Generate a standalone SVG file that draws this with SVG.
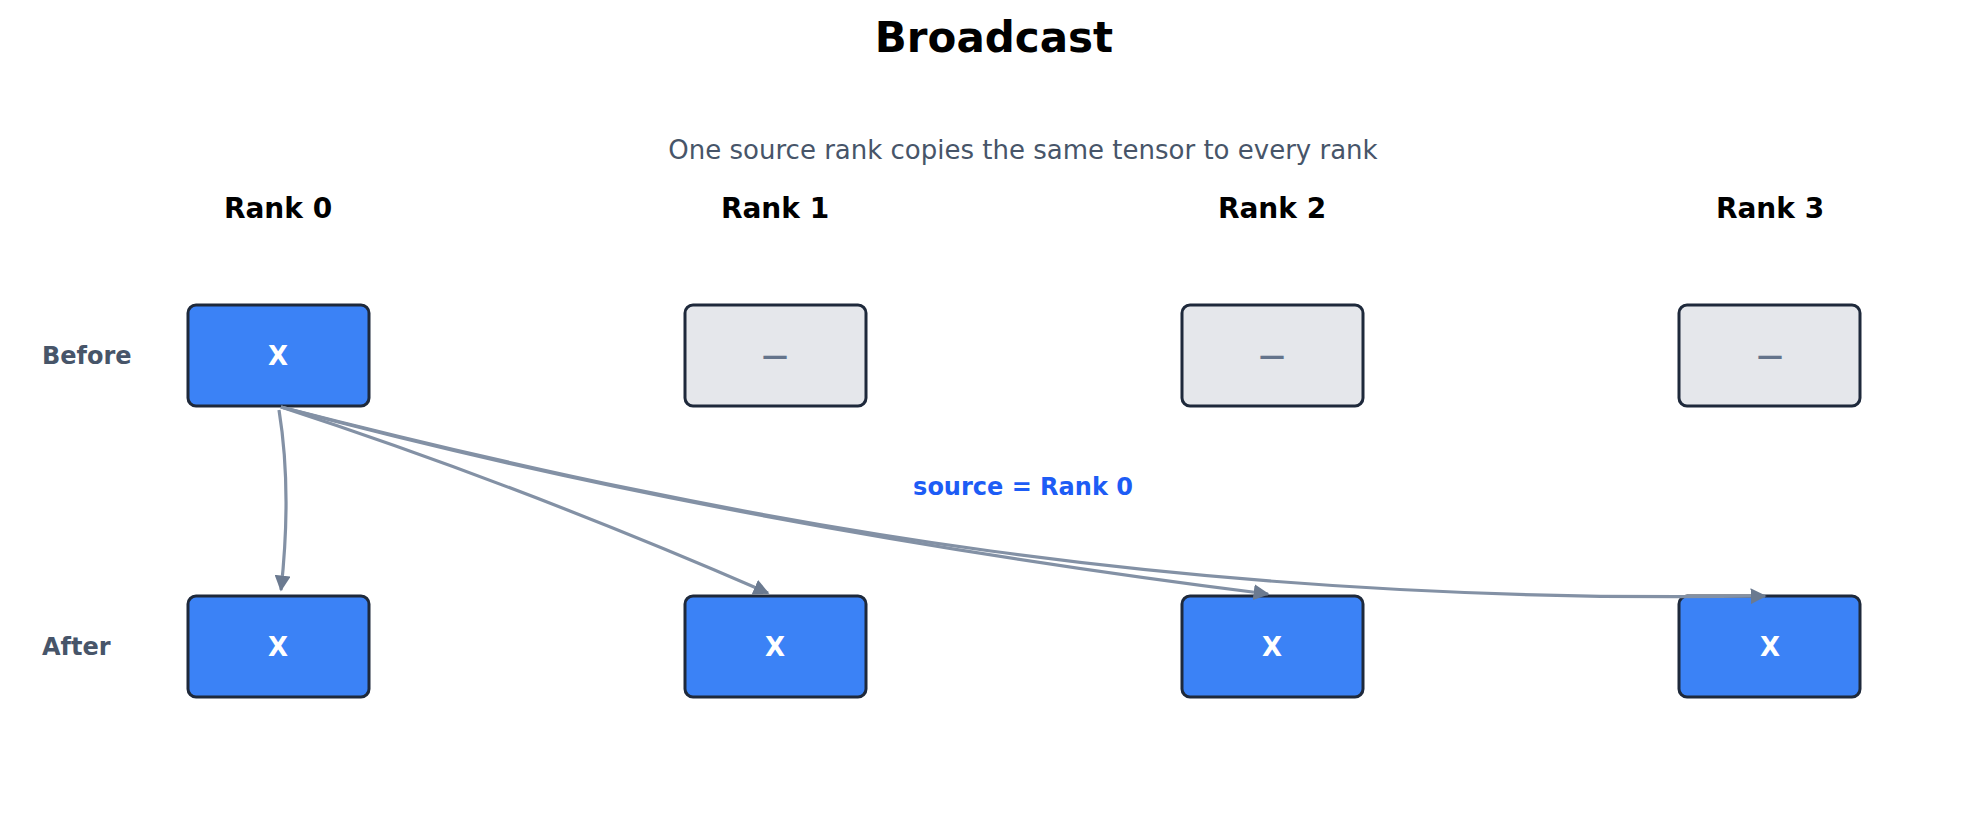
<svg xmlns="http://www.w3.org/2000/svg" width="1988" height="835" viewBox="0 0 1988 835">
<style>
text{font-family:"DejaVu Sans",sans-serif;text-anchor:middle}
.t{font-size:42px;font-weight:bold;fill:#000}
.sub{font-size:26px;fill:#475569}
.rk{font-size:28px;font-weight:bold;fill:#000}
.row{font-size:24px;font-weight:bold;fill:#475569;text-anchor:start}
.full rect{fill:#3b82f6;stroke:#1e293b;stroke-width:3}
.empty rect{fill:#e5e7eb;stroke:#1e293b;stroke-width:3}
.full text{font-size:26px;font-weight:bold;fill:#fff}
.empty text{font-size:26px;font-weight:bold;fill:#64748b}
.e{fill:none;stroke:#8391a5;stroke-width:3.2}
.lbl{font-size:24px;font-weight:bold;fill:#1d5cf5}
</style>
<defs><marker id="ah" viewBox="0 0 10 10" refX="9" refY="5" markerWidth="5" markerHeight="5" orient="auto-start-reverse" markerUnits="strokeWidth"><path d="M0,0L10,5L0,10z" fill="#6b7a90"/></marker></defs>
<text class="t" x="994" y="52">Broadcast</text>
<text class="sub" x="1023" y="159">One source rank copies the same tensor to every rank</text>
<text class="rk" x="278" y="218">Rank 0</text>
<text class="rk" x="775" y="218">Rank 1</text>
<text class="rk" x="1272" y="218">Rank 2</text>
<text class="rk" x="1770" y="218">Rank 3</text>
<text class="row" x="42" y="364">Before</text>
<text class="row" x="42" y="655">After</text>
<g id="b0" class="full"><rect x="188" y="305" width="181" height="101" rx="8"/><text x="278" y="365">X</text></g>
<g id="b1" class="empty"><rect x="685" y="305" width="181" height="101" rx="8"/><text x="775" y="365">—</text></g>
<g id="b2" class="empty"><rect x="1182" y="305" width="181" height="101" rx="8"/><text x="1272" y="365">—</text></g>
<g id="b3" class="empty"><rect x="1679" y="305" width="181" height="101" rx="8"/><text x="1770" y="365">—</text></g>
<g id="a0" class="full"><rect x="188" y="596" width="181" height="101" rx="8"/><text x="278" y="656">X</text></g>
<g id="a1" class="full"><rect x="685" y="596" width="181" height="101" rx="8"/><text x="775" y="656">X</text></g>
<g id="a2" class="full"><rect x="1182" y="596" width="181" height="101" rx="8"/><text x="1272" y="656">X</text></g>
<g id="a3" class="full"><rect x="1679" y="596" width="181" height="101" rx="8"/><text x="1770" y="656">X</text></g>
<g id="edges">
<path class="e" marker-end="url(#ah)" d="M279,410 Q292,490 281,590"/>
<path class="e" marker-end="url(#ah)" d="M281,407 Q520,485 768,593"/>
<path class="e" marker-end="url(#ah)" d="M281,407 Q720,525 1268,594"/>
<path class="e" marker-end="url(#ah)" d="M281,407 C760,530 1200,605 1765,596"/>
</g>
<text class="lbl" x="1023" y="495">source = Rank 0</text>
</svg>
